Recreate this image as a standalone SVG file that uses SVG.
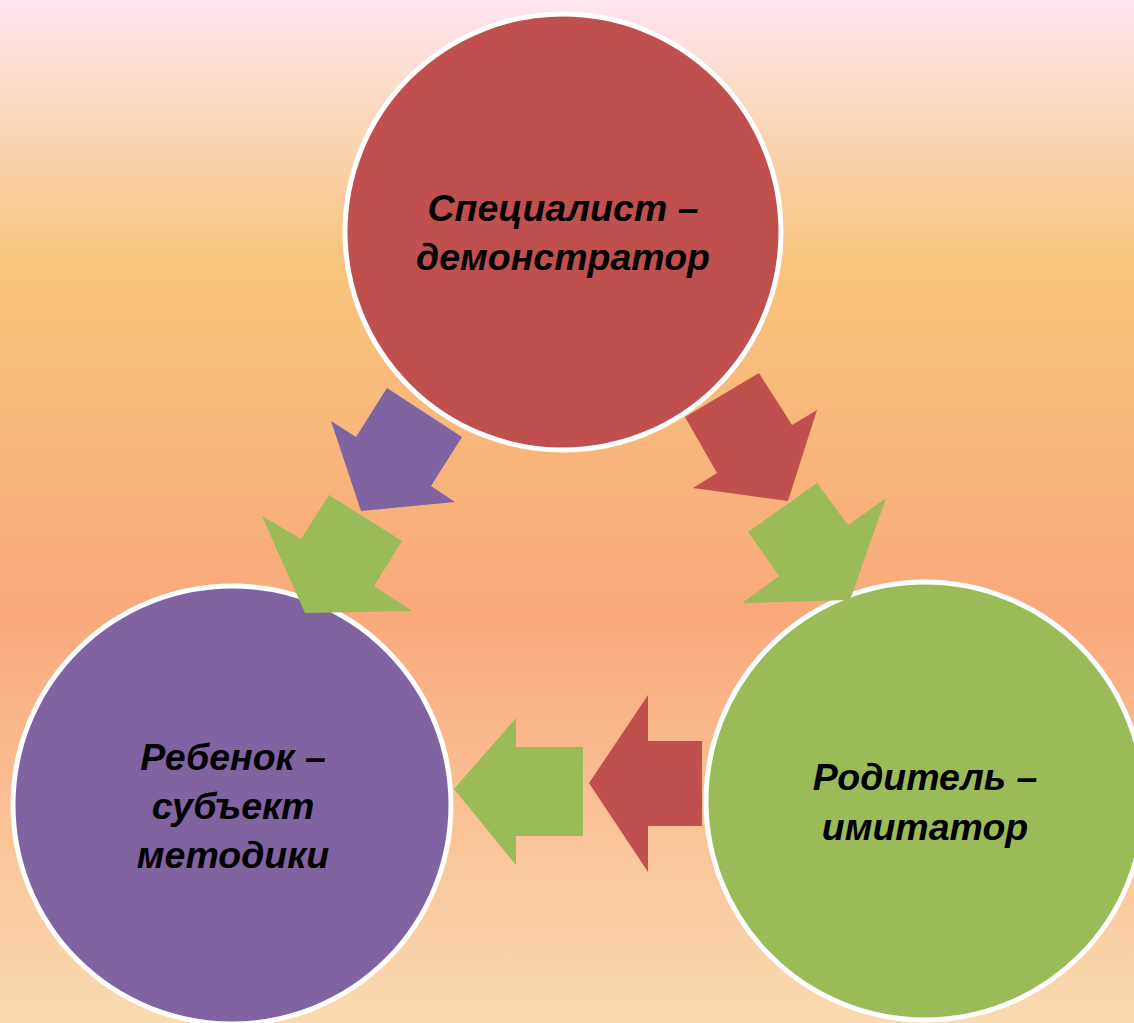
<svg xmlns="http://www.w3.org/2000/svg" width="1134" height="1023" viewBox="0 0 1134 1023">
<defs>
<linearGradient id="bg" x1="0" y1="0" x2="0" y2="1">
<stop offset="0" stop-color="#FEE5F1"/>
<stop offset="0.08" stop-color="#FCDCCB"/>
<stop offset="0.26" stop-color="#F8C47B"/>
<stop offset="0.6" stop-color="#F9A97C"/>
<stop offset="1" stop-color="#FBDAB0"/>
</linearGradient>
<style>
.c{stroke:#FFFFFF;stroke-width:5}
.t{font-family:"Liberation Sans",Arial,sans-serif;font-weight:bold;font-style:italic;font-size:37.5px;fill:#000;text-anchor:middle}
</style>
</defs>
<rect width="1134" height="1023" fill="url(#bg)"/>
<g id="node-specialist">
<circle class="c" cx="563" cy="232" r="218" fill="#C0504D"/>
<text class="t" x="563" y="221">Специалист –</text>
<text class="t" x="563" y="270">демонстратор</text>
</g>
<g id="node-child">
<circle class="c" cx="232" cy="805" r="219" fill="#8064A2"/>
<text class="t" x="233" y="770">Ребенок –</text>
<text class="t" x="233" y="819">субъект</text>
<text class="t" x="233" y="868">методики</text>
</g>
<g id="node-parent">
<circle class="c" cx="925" cy="801" r="219" fill="#9BBB59"/>
<text class="t" x="925" y="790">Родитель –</text>
<text class="t" x="925" y="840">имитатор</text>
</g>
<g id="connectors">
<polygon fill="#8064A2" points="387,388 462,437 431,486 455,502 361,511 331,421 356,437"/>
<polygon fill="#9BBB59" points="329,495 402,541 374,586 412,611 305,613 262,516 301,539"/>
<polygon fill="#C0504D" points="759,373 792,425 817,410 788,501 693,488 717,473 685,417"/>
<polygon fill="#9BBB59" points="817,483 848,525 886,498 850,600 742,603 779,576 748,532"/>
<polygon fill="#9BBB59" points="454,789 516,718 516,747 583,747 583,836 516,836 516,865"/>
<polygon fill="#C0504D" points="589,783 648,695 648,741 702,741 702,826 648,826 648,872"/>
</g>
</svg>
